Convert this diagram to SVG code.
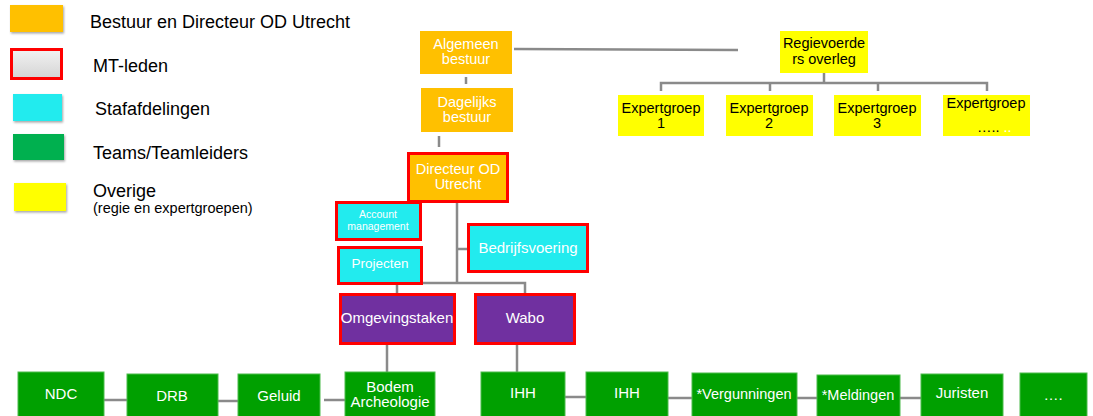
<svg xmlns="http://www.w3.org/2000/svg" width="1093" height="416" viewBox="0 0 1093 416">
<style>
text{font-family:"Liberation Sans",Arial,sans-serif}
.leg{font-size:18px;fill:#000}
.w{fill:#fff;text-anchor:middle}
.b{fill:#000;text-anchor:middle}
.or{fill:#FFC000}
.cy{fill:#22EBEE}
.pu{fill:#7030A0}
.ye{fill:#FFFF00}
.gr{fill:#00A000;stroke:#4cbc4c;stroke-width:1}
.mt{stroke:#FF0000;stroke-width:3}
.ln{stroke:#8a8a8a;stroke-width:2.5;fill:none}
</style>
<defs>
<filter id="sh" x="-20%" y="-20%" width="140%" height="150%">
<feDropShadow dx="1" dy="1.5" stdDeviation="1.2" flood-color="#000" flood-opacity="0.35"/>
</filter>
<linearGradient id="gg" x1="0" y1="0" x2="0" y2="1">
<stop offset="0" stop-color="#f2f2f2"/>
<stop offset="1" stop-color="#d4d4d4"/>
</linearGradient>
</defs>

<g id="legend">
<rect x="10" y="5" width="53" height="27" class="or" filter="url(#sh)"/>
<text class="leg" x="90" y="28">Bestuur en Directeur OD Utrecht</text>
<rect x="11.5" y="49.5" width="50" height="29" fill="url(#gg)" class="mt"/>
<text class="leg" x="93" y="72">MT-leden</text>
<rect x="13" y="94" width="49" height="27" class="cy" filter="url(#sh)"/>
<text class="leg" x="95" y="115">Stafafdelingen</text>
<rect x="13" y="134" width="51" height="26" fill="#00B050" filter="url(#sh)"/>
<text class="leg" x="93" y="159">Teams/Teamleiders</text>
<rect x="14" y="183" width="52" height="28" class="ye" filter="url(#sh)"/>
<text class="leg" x="93" y="197">Overige</text>
<text x="93" y="213" font-size="14.5" fill="#000">(regie en expertgroepen)</text>
</g>

<g id="connectors">
<path class="ln" d="M514 49 L738 50"/>
<path class="ln" d="M466 77 V84"/>
<path class="ln" d="M439 136 V147"/>
<path class="ln" d="M824 73 V83 M661 91 V83 H987 V91 M770 83 V91 M878 83 V91"/>
<path class="ln" d="M457 203 V283 M457 249 H468 M397 293 V283 H525 V293"/>
<path class="ln" d="M387 345 V372 M517 345 V372"/>
<path class="ln" d="M104 400 H127 M218 401 H238 M324 400 H345"/>
<path class="ln" d="M565 397 H586 M668 398 H692 M797 398 H817 M900 398 H921"/>
</g>

<g id="algemeen" font-size="14.5">
<rect x="420" y="31" width="92" height="43" class="or"/>
<text class="w" x="466" y="49">Algemeen</text>
<text class="w" x="466" y="64">bestuur</text>
</g>
<g id="dagelijks" font-size="14.5">
<rect x="421" y="88" width="92" height="44" class="or"/>
<text class="w" x="467" y="107">Dagelijks</text>
<text class="w" x="467" y="122">bestuur</text>
</g>
<g id="directeur" font-size="14.5">
<rect x="408.5" y="153.5" width="99" height="48" class="or mt"/>
<text class="w" x="458" y="174">Directeur OD</text>
<text class="w" x="458" y="189">Utrecht</text>
</g>
<g id="regie" font-size="14.5">
<rect x="780" y="31" width="88" height="42" class="ye"/>
<text class="b" x="824" y="48">Regievoerde</text>
<text class="b" x="824" y="64">rs overleg</text>
</g>
<g id="exp1" font-size="14.5">
<rect x="618" y="95" width="86" height="41" class="ye"/>
<text class="b" x="661" y="113">Expertgroep</text>
<text class="b" x="661" y="128">1</text>
</g>
<g id="exp2" font-size="14.5">
<rect x="726" y="95" width="87" height="41" class="ye"/>
<text class="b" x="769" y="113">Expertgroep</text>
<text class="b" x="769" y="128">2</text>
</g>
<g id="exp3" font-size="14.5">
<rect x="834" y="95" width="87" height="41" class="ye"/>
<text class="b" x="877" y="113">Expertgroep</text>
<text class="b" x="877" y="128">3</text>
</g>
<g id="exp4" font-size="14.5">
<rect x="943" y="95" width="87" height="41" class="ye"/>
<text class="b" x="986" y="108">Expertgroep</text>
<text x="977" y="132" fill="#000">…..<tspan fill="#fff"> ..</tspan></text>
</g>
<g id="account" font-size="10.5">
<rect x="336.5" y="202.5" width="84" height="37" class="cy mt"/>
<text class="w" x="378" y="218">Account</text>
<text class="w" x="378" y="230">management</text>
</g>
<g id="projecten" font-size="13.5">
<rect x="338.5" y="247.5" width="83" height="36" class="cy mt"/>
<text class="w" x="380" y="268">Projecten</text>
</g>
<g id="bedrijfsvoering" font-size="15">
<rect x="468.5" y="224.5" width="119" height="47" class="cy mt"/>
<text class="w" x="528" y="253">Bedrijfsvoering</text>
</g>
<g id="omgevingstaken" font-size="15">
<rect x="340.5" y="294.5" width="114" height="49" class="pu mt"/>
<text class="w" x="397" y="323">Omgevingstaken</text>
</g>
<g id="wabo" font-size="15">
<rect x="475.5" y="294.5" width="99" height="49" class="pu mt"/>
<text class="w" x="525" y="323">Wabo</text>
</g>

<g id="ndc" font-size="15"><rect x="18" y="372" width="86" height="50" class="gr"/><text class="w" x="61" y="399">NDC</text></g>
<g id="drb" font-size="15"><rect x="127" y="374" width="91" height="48" class="gr"/><text class="w" x="172" y="401">DRB</text></g>
<g id="geluid" font-size="15"><rect x="238" y="374" width="82" height="48" class="gr"/><text class="w" x="279" y="401">Geluid</text></g>
<g id="bodem" font-size="15"><rect x="345" y="372" width="90" height="50" class="gr"/><text class="w" x="390" y="392">Bodem</text><text class="w" x="390" y="407">Archeologie</text></g>
<g id="ihh1" font-size="15"><rect x="481" y="372" width="84" height="50" class="gr"/><text class="w" x="523" y="398">IHH</text></g>
<g id="ihh2" font-size="15"><rect x="586" y="372" width="82" height="50" class="gr"/><text class="w" x="627" y="398">IHH</text></g>
<g id="vergunningen" font-size="14.5"><rect x="692" y="373" width="105" height="49" class="gr"/><text class="w" x="744" y="399">*Vergunningen</text></g>
<g id="meldingen" font-size="14.5"><rect x="817" y="375" width="83" height="47" class="gr"/><text class="w" x="858" y="400">*Meldingen</text></g>
<g id="juristen" font-size="15"><rect x="921" y="374" width="82" height="48" class="gr"/><text class="w" x="962" y="398">Juristen</text></g>
<g id="more" font-size="15"><rect x="1020" y="373" width="67" height="49" class="gr"/><text class="w" x="1053" y="400">….</text></g>
</svg>
